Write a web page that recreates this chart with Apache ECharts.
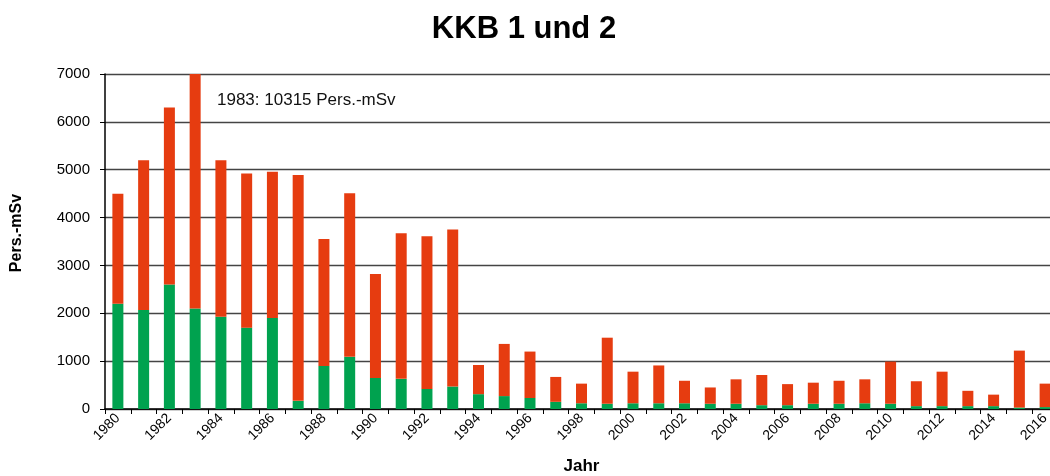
<!DOCTYPE html>
<html>
<head>
<meta charset="UTF-8">
<title>KKB 1 und 2</title>
<script src="https://cdn.jsdelivr.net/npm/echarts@6/dist/echarts.min.js"></script>
<style>
	html, body{
		margin:0;
		padding:0;
		background:#fff;
	}
	#chart{
		width:1050px;
		height:476px;
	}
</style>
</head>
<body>
	<div id="chart"></div>
<script>
	// Jahre 1980 - 2016
	var years = [];
	for (var y = 1980; y <= 2016; y++) years.push(String(y));

	// gruener Anteil (unten) in Pers.-mSv
	var greenPart = [2200, 2070, 2600, 2100, 1930, 1700, 1900, 170, 900, 1090,
		650, 630, 420, 470, 310, 270, 230, 150, 120, 110,
		120, 120, 120, 110, 110, 80, 80, 110, 110, 120,
		110, 60, 60, 60, 60, 30, 40];
	// roter Anteil (oben) = Gesamt - gruen
	var redPart = [2300, 3130, 3700, 8215, 3270, 3220, 3060, 4720, 2650, 3420,
		2170, 3040, 3190, 3280, 610, 1090, 970, 520, 410, 1380,
		660, 790, 470, 340, 510, 630, 440, 440, 480, 500,
		880, 520, 720, 320, 240, 1190, 490];

	var yTicks = [0, 1000, 2000, 3000, 4000, 5000, 6000, 7000];

	var myChart = echarts.init(document.getElementById("chart"));

	var option = {
		animation:false,
		title:{
			text:"KKB 1 und 2",
			left:519,
			top:9,
			textAlign:"center",
			textStyle:{
				fontFamily:"Liberation Sans, Arial, sans-serif",
				fontSize:31,
				fontWeight:"bold",
				color:"#000"
			}
		},
		graphic:[{
			type:"text",
			left:217,
			top:92,
			style:{
				text:"1983: 10315 Pers.-mSv",
				font:"17px 'Liberation Sans', Arial, sans-serif",
				fill:"#111"
			}
		}],
		grid:{
			left:105,
			right:-8,
			top:74,
			bottom:67,
			containLabel:false,
			outerBoundsMode:"none"
		},
		xAxis:{
			type:"category",
			data:years,
			name:"Jahr",
			nameLocation:"middle",
			nameGap:49,
			nameTextStyle:{
				fontFamily:"Liberation Sans, Arial, sans-serif",
				fontSize:17,
				fontWeight:"bold",
				color:"#000"
			},
			axisLine:{lineStyle:{color:"#000", width:1.5}},
			axisTick:{show:true, alignWithLabel:false, interval:0, length:5, lineStyle:{color:"#000"}},
			axisLabel:{
				interval:1,
				rotate:45,
				margin:7,
				fontFamily:"Liberation Sans, Arial, sans-serif",
				fontSize:14,
				color:"#000"
			}
		},
		yAxis:{
			type:"value",
			min:yTicks[0],
			max:yTicks[yTicks.length - 1],
			interval:1000,
			name:"Pers.-mSv",
			nameLocation:"middle",
			nameGap:80,
			nameRotate:90,
			nameTextStyle:{
				fontFamily:"Liberation Sans, Arial, sans-serif",
				fontSize:16,
				fontWeight:"bold",
				color:"#000",
				padding:[0, 0, 0, 17]
			},
			axisLine:{show:true, lineStyle:{color:"#000", width:1.5}},
			axisTick:{show:true, length:5, lineStyle:{color:"#000"}},
			axisLabel:{
				margin:15,
				formatter:function(v){ return String(v); },
				fontFamily:"Liberation Sans, Arial, sans-serif",
				fontSize:15,
				color:"#000"
			},
			splitLine:{lineStyle:{color:"#444", width:1.3}}
		},
		series:[{
			name:"gruen",
			type:"bar",
			stack:"dosis",
			barWidth:11,
			itemStyle:{color:"#00a24f"},
			data:greenPart
		},{
			name:"rot",
			type:"bar",
			stack:"dosis",
			barWidth:11,
			itemStyle:{color:"#e63c10"},
			data:redPart
		}]
	};
	myChart.setOption(option);
</script>
</body>
</html>
